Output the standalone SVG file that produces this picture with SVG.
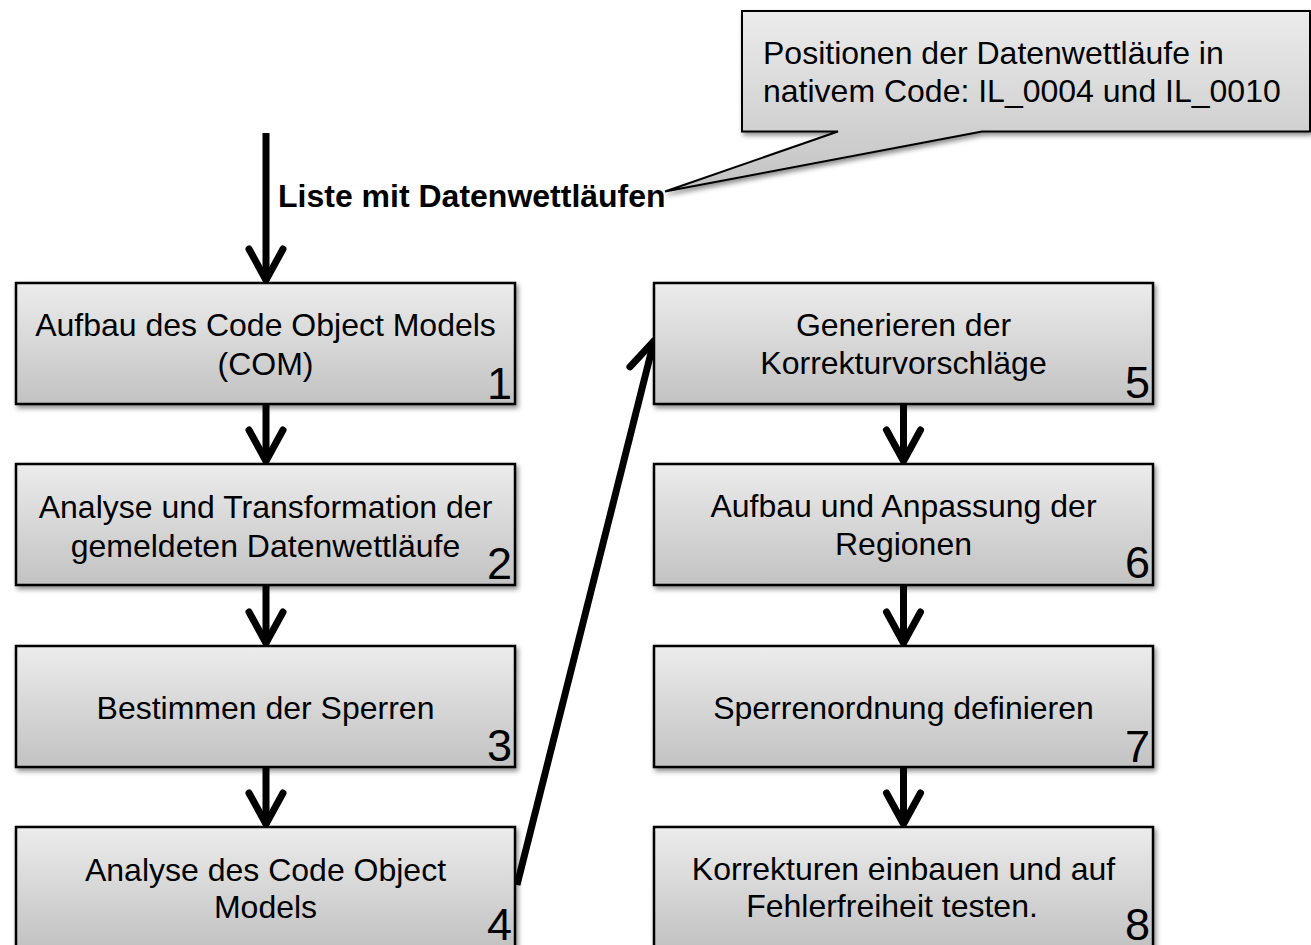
<svg xmlns="http://www.w3.org/2000/svg" width="1311" height="945" viewBox="0 0 1311 945">
  <defs>
    <linearGradient id="boxGrad" x1="0" y1="0" x2="0" y2="1">
      <stop offset="0" stop-color="#ececec"/>
      <stop offset="1" stop-color="#c2c2c2"/>
    </linearGradient>
    <filter id="shadow" x="-5%" y="-5%" width="112%" height="120%">
      <feDropShadow dx="2" dy="3" stdDeviation="2.5" flood-color="#000" flood-opacity="0.45"/>
    </filter>
    <marker id="vhead" markerUnits="userSpaceOnUse" orient="auto" refX="0" refY="0" viewBox="-40 -25 46 50" markerWidth="46" markerHeight="50" overflow="visible">
      <path d="M-31,-17 L0,0 L-31,17" fill="none" stroke="#000" stroke-width="7" stroke-linecap="round" stroke-linejoin="round"/>
    </marker>
  </defs>
  <style>
    .box { fill: url(#boxGrad); stroke: #000; stroke-width: 2.5; filter: url(#shadow); }
    .txt { font-family: "Liberation Sans", Arial, sans-serif; font-size: 32px; fill: #000; text-anchor: middle; }
    .num { font-family: "Liberation Sans", Arial, sans-serif; font-size: 45px; fill: #000; text-anchor: end; }
    .conn { fill: none; stroke: #000; stroke-width: 7; marker-end: url(#vhead); }
    .label { font-family: "Liberation Sans", Arial, sans-serif; font-size: 32px; font-weight: bold; fill: #000; }
    .callout { fill: url(#boxGrad); stroke: #000; stroke-width: 2; stroke-linejoin: miter; filter: url(#shadow); }
    .ctxt { font-family: "Liberation Sans", Arial, sans-serif; font-size: 32px; fill: #000; }
  </style>

  <g id="connectors">
    <line class="conn" x1="266" y1="133" x2="266" y2="280"/>
    <line class="conn" x1="266" y1="404" x2="266" y2="461"/>
    <line class="conn" x1="266" y1="585" x2="266" y2="643"/>
    <line class="conn" x1="266" y1="767" x2="266" y2="824"/>
    <line class="conn" x1="517" y1="885" x2="654" y2="341"/>
    <line class="conn" x1="903.5" y1="404" x2="903.5" y2="461"/>
    <line class="conn" x1="903.5" y1="585" x2="903.5" y2="643"/>
    <line class="conn" x1="903.5" y1="767" x2="903.5" y2="824"/>
    <text class="label" x="278" y="207">Liste mit Datenwettläufen</text>
  </g>

  <g id="callout">
    <path class="callout" d="M742,11 H1310 V131.5 H982 L665,191.5 L838,131.5 H742 Z"/>
    <text class="ctxt" x="763" y="64">Positionen der Datenwettläufe in</text>
    <text class="ctxt" x="763" y="102">nativem Code: IL_0004 und IL_0010</text>
  </g>

  <g id="node1">
    <rect class="box" x="16" y="283" width="499" height="121"/>
    <text class="txt" x="265.5" y="336">Aufbau des Code Object Models</text>
    <text class="txt" x="265.5" y="375">(COM)</text>
    <text class="num" x="512" y="399">1</text>
  </g>
  <g id="node2">
    <rect class="box" x="16" y="464" width="499" height="121"/>
    <text class="txt" x="265.5" y="518">Analyse und Transformation der</text>
    <text class="txt" x="265.5" y="557">gemeldeten Datenwettläufe</text>
    <text class="num" x="512" y="579">2</text>
  </g>
  <g id="node3">
    <rect class="box" x="16" y="646" width="499" height="121"/>
    <text class="txt" x="265.5" y="719">Bestimmen der Sperren</text>
    <text class="num" x="512" y="761">3</text>
  </g>
  <g id="node4">
    <rect class="box" x="16" y="827" width="499" height="121"/>
    <text class="txt" x="265.5" y="881">Analyse des Code Object</text>
    <text class="txt" x="265.5" y="918">Models</text>
    <text class="num" x="512" y="940">4</text>
  </g>
  <g id="node5">
    <rect class="box" x="654" y="283" width="499" height="121"/>
    <text class="txt" x="903.5" y="336">Generieren der</text>
    <text class="txt" x="903.5" y="374">Korrekturvorschläge</text>
    <text class="num" x="1150" y="398">5</text>
  </g>
  <g id="node6">
    <rect class="box" x="654" y="464" width="499" height="121"/>
    <text class="txt" x="903.5" y="517">Aufbau und Anpassung der</text>
    <text class="txt" x="903.5" y="555">Regionen</text>
    <text class="num" x="1150" y="578">6</text>
  </g>
  <g id="node7">
    <rect class="box" x="654" y="646" width="499" height="121"/>
    <text class="txt" x="903.5" y="719">Sperrenordnung definieren</text>
    <text class="num" x="1150" y="762">7</text>
  </g>
  <g id="node8">
    <rect class="box" x="654" y="827" width="499" height="121"/>
    <text class="txt" x="903.5" y="880">Korrekturen einbauen und auf</text>
    <text class="txt" x="892" y="917">Fehlerfreiheit testen.</text>
    <text class="num" x="1150" y="940">8</text>
  </g>
</svg>
